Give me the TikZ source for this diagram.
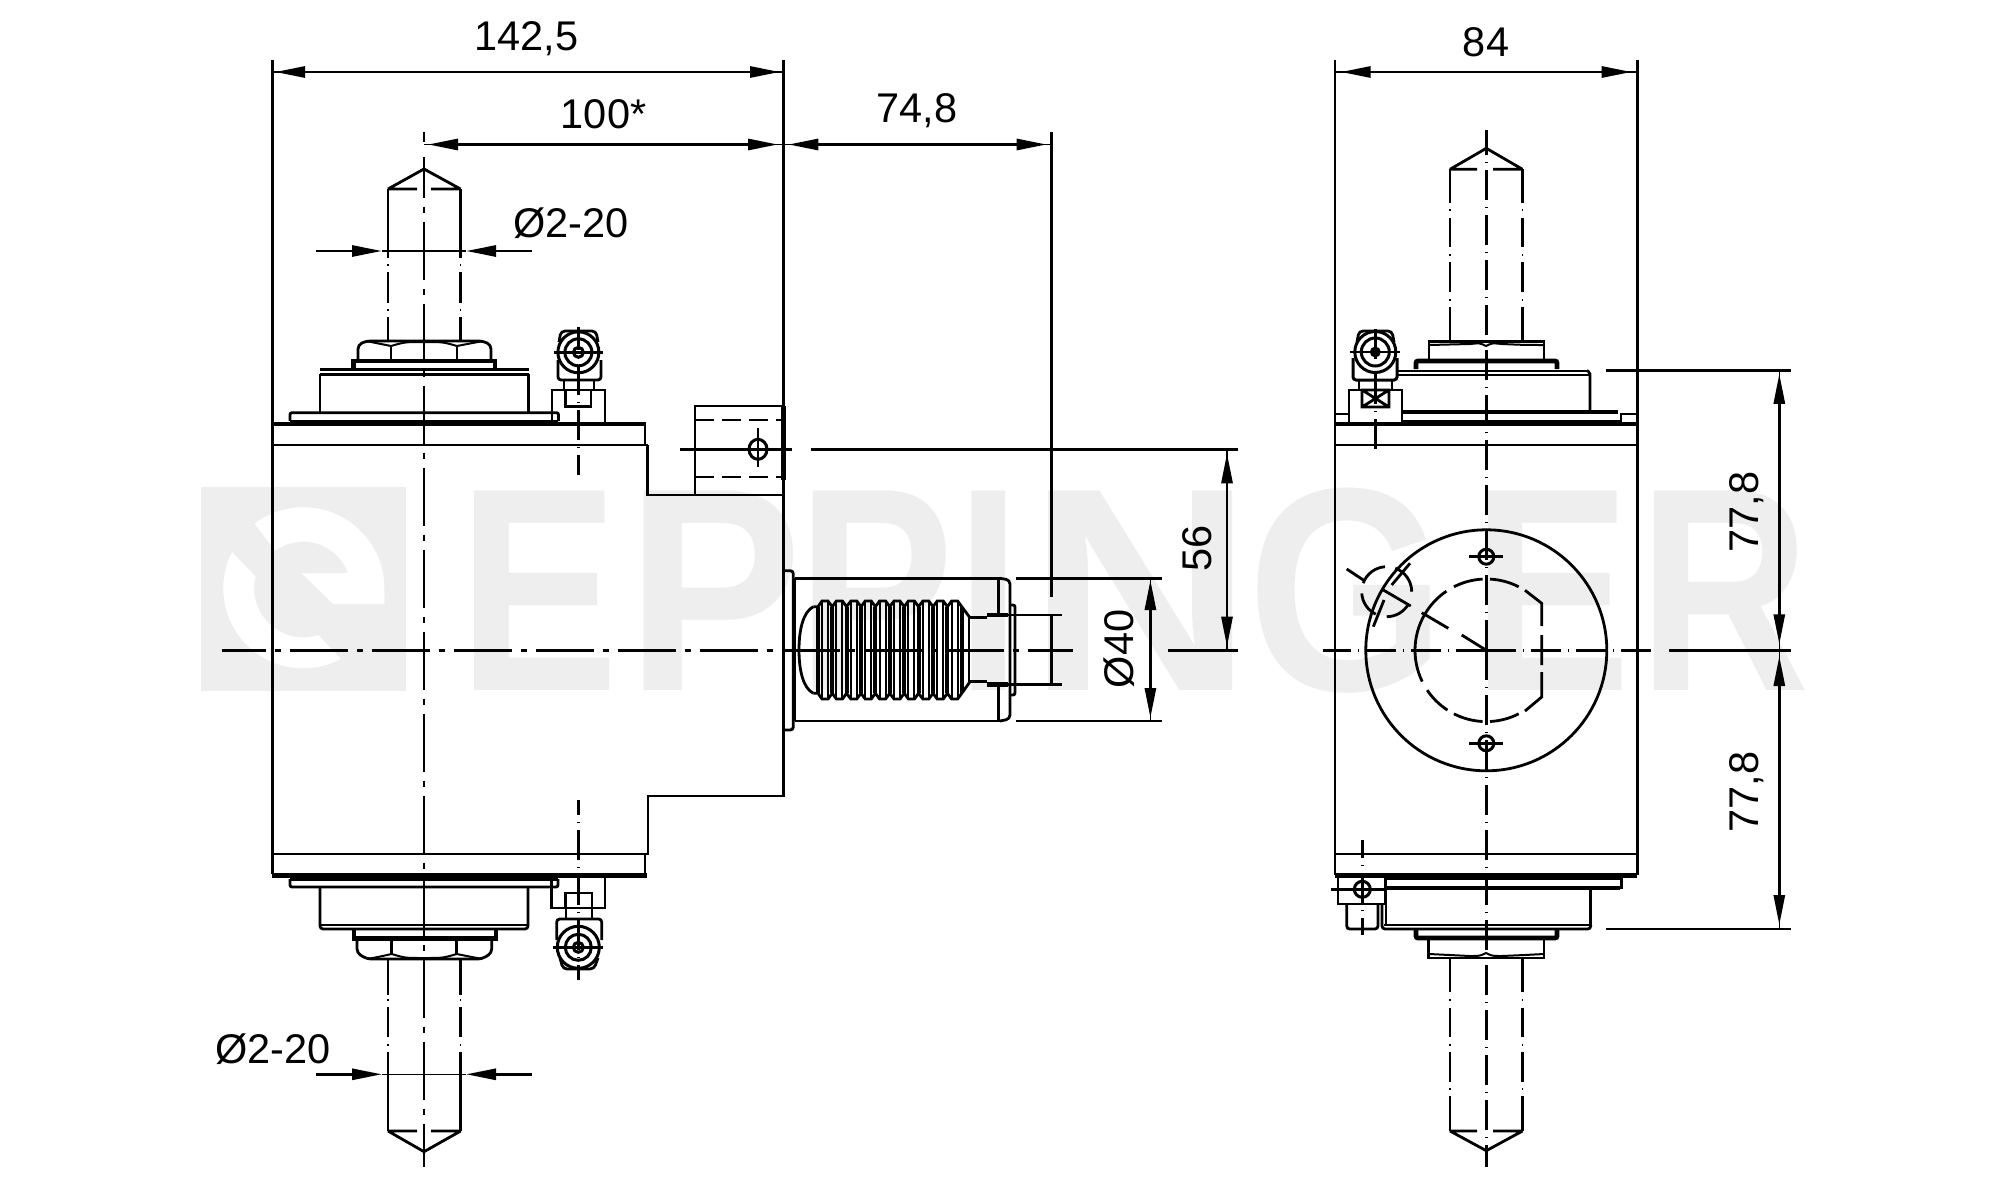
\documentclass[tikz,border=0pt]{standalone}
\usepackage{graphicx}
\usepackage{fontspec}
\setmainfont{Liberation Sans}
\usetikzlibrary{arrows.meta}
\definecolor{wmgray}{HTML}{EEEEEE}
\tikzset{
 ln/.style={line width=2.8pt,line cap=butt,line join=miter},
 hv/.style={line width=4.8pt,line cap=butt},
 thinl/.style={line width=1.3pt},
 cla/.style={ln,dash pattern=on 58pt off 9pt on 6pt off 9pt},
 clb/.style={ln,dash pattern=on 30pt off 7pt on 1pt off 7pt},
 dimarrow/.style={line width=2.8pt,{Triangle[length=30pt,width=11pt]}-{Triangle[length=30pt,width=11pt]}},
 onearrow/.style={line width=2.8pt,-{Triangle[length=30pt,width=11pt]}},
 dimtxt/.style={inner sep=0pt,anchor=base,font=\fontsize{41.5}{41.5}\selectfont},
 wm/.style={inner sep=0pt,anchor=base west,text=wmgray,font=\bfseries\fontsize{290}{290}\selectfont},
}
\begin{document}
\begin{tikzpicture}[x=1pt,y=-1pt]
\useasboundingbox (0,0) rectangle (2006,1180);
\fill[white] (0,0) rectangle (2006,1180);
% ---------- watermark
\fill[wmgray] (201,487.3) rectangle (406,690.7);
\fill[white] (303.3,588.3) ++(-127:81) arc[start angle=-127,end angle=0,radius=81] -- (384.3,604) -- (333.3,604) -- (301.7,573.3) -- (348,573) arc[start angle=-20,end angle=-126,radius=47.7] -- cycle;
\fill[white] (303.3,588.3) ++(-153:80) arc[start angle=-153,end angle=-298,radius=80] -- (318.3,635) arc[start angle=72,end angle=194,radius=49] -- cycle;
\node[wm] (w1) at (458,690.7) {\scalebox{.83}[1]{E}};
\node[wm] (w2) at (626,690.7) {\scalebox{.91}[1]{P}};
\node[wm] (w3) at (797,690.7) {\scalebox{.81}[1]{P}};
\node[wm] (w4) at (956,690.7) {\scalebox{.8}[1]{I}};
\node[wm] (w5) at (1027,690.7) {\scalebox{1.08}[1]{N}};
\node[wm] (w6) at (1247,690.7) {\scalebox{.88}[1]{G}};
\node[wm] (w7) at (1472,690.7) {\scalebox{.82}[1]{E}};
\node[wm] (w8) at (1638,690.7) {\scalebox{.82}[1]{R}};
% ---------- left view: body
\draw[ln] (272.5,60) -- (272.5,874);
\draw[ln] (272,445) -- (648,445) (272,854) -- (647,854);
\draw[ln] (645,424) -- (645,445) (647.5,445) -- (647.5,495) -- (783.5,495) -- (783.5,796) -- (648,796) -- (648,855);
\draw[ln] (645,854) -- (645,875);
\draw[ln] (783.5,60) -- (783.5,495);
\draw[hv] (272,424) -- (646,424) (272,875.5) -- (647,875.5);
% lug
\draw[ln] (695,495) -- (695,406) -- (783.5,406);
\draw[hv] (783.5,406) -- (783.5,480);
\draw[ln,dash pattern=on 19pt off 8pt] (695,420) -- (783,420) (695,477) -- (783,477);
\draw[line width=3pt] (758,449.3) ellipse[x radius=9,y radius=10];
\draw[ln] (758,428) -- (758,467) (680,449.3) -- (791.5,449.3) (810.6,449.3) -- (1238,449.3);
% top stack left view
\draw[ln,rounded corners=2pt] (290,421) -- (290,412.7) -- (558.5,412.7) -- (558.5,421);
\draw[hv] (290,422) -- (558,422);
\draw[ln] (320,412) -- (320,374) (528.6,374) -- (528.6,412);
\draw[ln] (320,369.5) -- (528.6,369.5) (320,374.5) -- (528.6,374.5);
\draw[hv] (353.5,369) -- (353.5,361) -- (495,361) -- (495,369);
\draw[ln] (353,369) -- (495,369);
\draw[ln,rounded corners=4pt] (358,359) -- (358,345) -- (366,341) -- (483,341) -- (491,345) -- (491,359);
\draw[line width=2pt] (366,341) .. controls (378,344) .. (391,346) (391,346) .. controls (405,342) .. (424,342) .. controls (443,342) .. (457,346) (457,346) .. controls (470,344) .. (483,341);
\draw[ln] (391,346) -- (391,359) (457,346) -- (457,359);
% top shank left view
\draw[ln] (424,169) -- (388,189) (424,169) -- (460.5,189) (388,189) -- (417,189) (431,189) -- (460.5,189);
\foreach \xx in {388,460.5}{
 \draw[ln] (\xx,189) -- (\xx,258) (\xx,272) -- (\xx,303) (\xx,317) -- (\xx,341);
 \foreach \yy in {265,310}{\draw[thinl] (\xx,\yy-1) -- (\xx,\yy+1);}
}
% bottom stack left view
\draw[ln,rounded corners=2pt] (290,879) -- (290,887) -- (558,887) -- (558,879);
\draw[hv] (290,879) -- (558,879);
\draw[ln,rounded corners=3pt] (320,888) -- (320,929) -- (528,929) -- (528,888);
\draw[ln] (320,925) -- (528,925);
\draw[hv] (354,930) -- (354,938.5) -- (496,938.5) -- (496,930);
\draw[ln,rounded corners=4pt] (357,939) -- (357,953) -- (367,959) -- (482,959) -- (491.7,953) -- (491.7,939);
\draw[line width=2pt] (367,959) .. controls (378,957) .. (391.7,954) (391.7,954) .. controls (405,958) .. (424,958) .. controls (443,958) .. (456.7,954) (456.7,954) .. controls (470,957) .. (482,959);
\draw[ln] (391.7,940) -- (391.7,954) (456.7,940) -- (456.7,954);
% bottom shank left view
\draw[ln] (424,1151.7) -- (388,1131) (424,1151.7) -- (460.7,1131) (388,1131) -- (417,1131) (431,1131) -- (460.7,1131);
\foreach \xx in {388,460.7}{
 \draw[ln] (\xx,959) -- (\xx,995) (\xx,1007) -- (\xx,1037) (\xx,1052) -- (\xx,1131);
 \foreach \yy in {1000,1045}{\draw[thinl] (\xx,\yy-1) -- (\xx,\yy+1);}
}
% top fitting left view
\draw[ln] (552,424) -- (552,390) -- (605,390) -- (605,424);
\draw[ln] (565.7,390) rectangle (591,406.7);
\draw[ln] (564,380) -- (564,390) (594,380) -- (594,390);
\draw[ln,rounded corners=3pt] (558,360) -- (558,380) -- (601,380) -- (601,360);
\draw[ln,rounded corners=4pt] (559,342) -- (561,331) -- (596,331) -- (598,342);
\draw[line width=3pt,fill=white] (578.4,352.3) circle[radius=20.5];
\draw[line width=3pt] (578.4,352.3) circle[radius=13.5] (578.4,352.3) circle[radius=5];
\draw[ln] (554,352.3) -- (603,352.3);
\draw[clb,dash phase=10pt] (578.4,475) -- (578.4,327);
% bottom fitting left view
\draw[ln] (551.7,876) -- (551.7,908) -- (605,908) -- (605,876);
\draw[ln] (565.7,908) -- (565.7,893) -- (592,893) -- (592,908);
\draw[ln] (566,908) -- (566,919) (592,908) -- (592,919);
\draw[ln,rounded corners=3pt] (556.7,940) -- (556.7,919) -- (601.7,919) -- (601.7,940);
\draw[ln,rounded corners=4pt] (560,958) -- (563,969) -- (594,969) -- (598,958);
\draw[line width=3pt,fill=white] (578.3,947.3) circle[radius=21];
\draw[line width=3pt] (578.3,947.3) circle[radius=13] (578.3,947.3) circle[radius=5];
\draw[ln] (553,947.3) -- (603,947.3);
\draw[clb,dash phase=15pt] (578.3,800) -- (578.3,980);
% left view centre lines
\draw[ln] (424,132) -- (424,142) (424,157) -- (424,197.5);
\draw[cla,dash phase=58pt] (424,197.5) -- (424,1166.7);
\draw[cla,dash phase=14pt] (221.7,650.3) -- (1073,650.3);
\draw[ln] (1168,650.3) -- (1238,650.3);
% ---------- spindle / bellows
\draw[ln,rounded corners=3pt] (783.5,570.7) -- (793.3,570.7) -- (793.3,730) -- (783.5,730);
\draw[ln] (795,578) -- (795,721);
\draw[ln] (795,578.3) -- (1001,578.3) (795,721) -- (1001,721);
\draw[ln,rounded corners=4pt] (1000,578.3) -- (1010,580) -- (1010,719) -- (1000,721);
\draw[ln] (998.3,578.3) -- (998.3,615) (998.3,684) -- (998.3,721);
\draw[ln,rounded corners=2pt] (1010,605) -- (1015,605) -- (1015,695) -- (1010,695);
\draw[hv] (987,615) -- (1008,615) (987,684.3) -- (1008,684.3);
\draw[ln] (1008,615) -- (1061.7,615) (1008,684.3) -- (1061.7,684.3);
\draw[ln] (970,617.7) -- (987,617.7) (970,681.7) -- (987,681.7);
\draw[ln] (813.3,606.7) .. controls (803,612) and (799,630) .. (799,650) .. controls (799,670) and (803,688) .. (813.3,693.3);
\draw[ln] (813.3,606.7) -- (818,606.7) \foreach \pp in {825,839.4,853.8,868.2,882.6,897,911.4,925.8,940.2,954.6}{ -- (\pp-3,601) -- (\pp+3,601) -- (\pp+7.2,606.7)} -- (970,617.7);
\draw[ln] (813.3,693.3) -- (818,693.3) \foreach \pp in {825,839.4,853.8,868.2,882.6,897,911.4,925.8,940.2,954.6}{ -- (\pp-3,699) -- (\pp+3,699) -- (\pp+7.2,693.3)} -- (970,681.7);
\foreach \pp in {825,839.4,853.8,868.2,882.6,897,911.4,925.8,940.2,954.6}{
 \draw[line width=4pt] (\pp-7.2,606.7) -- (\pp-7.2,693.3);
 \draw[line width=2pt] (\pp-3,602) -- (\pp-3,698) (\pp+3,602) -- (\pp+3,698);
}
\draw[line width=4pt] (962,607) -- (962,693);
\draw[line width=2pt] (969,617) -- (969,683);
% dimension extension lines near spindle
\draw[ln] (1016,578.3) -- (1162,578.3) (1016,721) -- (1162,721);
\draw[ln] (1051.7,131.7) -- (1051.7,596.7) (1051.7,615) -- (1051.7,684.3);
% ---------- right view
\draw[ln] (1335,60) -- (1335,875) (1637.3,60) -- (1637.3,875);
\draw[ln] (1335,445) -- (1637.3,445) (1335,854) -- (1637.3,854);
\draw[hv] (1335,424) -- (1637.3,424) (1335,875.5) -- (1637.3,875.5);
\draw[ln] (1335,414) -- (1349,414) (1620,414) -- (1637.3,414);
% top stack right view
\draw[hv] (1402,412) -- (1618,412) (1402,422) -- (1621,422);
\draw[ln] (1621,413) -- (1621,424);
\draw[ln] (1396,371) -- (1587,371) (1396,375) -- (1590,375);
\draw[ln,rounded corners=2pt] (1587,370.7) -- (1590,372) -- (1590,411);
\draw[hv,rounded corners=2pt] (1416,369) -- (1416,361) -- (1557,361) -- (1557,369);
\draw[ln] (1429,359) -- (1429,341.7) -- (1544,341.7) -- (1544,359);
\draw[line width=2pt] (1429,345) .. controls (1450,345) .. (1470,344) .. controls (1480,343) .. (1486,346) .. controls (1492,343) .. (1502,344) .. controls (1525,345) .. (1544,345);
% right view top fitting
\draw[ln] (1349,424) -- (1349,390) -- (1402,390) -- (1402,424);
\draw[ln] (1362,390) rectangle (1389,407) (1362,390) -- (1389,407) (1389,390) -- (1362,407);
\draw[ln] (1359,380) -- (1359,390) (1392,380) -- (1392,390);
\draw[line width=3pt,rounded corners=3pt] (1353,358) -- (1353,380) -- (1397,380) -- (1397,358);
\draw[ln,rounded corners=4pt] (1357,342) -- (1359,331) -- (1392,331) -- (1394,342);
\draw[line width=3pt,fill=white] (1375.3,352) circle[radius=20.5];
\draw[line width=3pt] (1375.3,352) circle[radius=14];
\fill (1375.3,352) circle[radius=5.5];
\draw[ln] (1350,352) -- (1400,352);
\draw[clb] (1375.3,449) -- (1375.3,327);
% right view shanks
\draw[ln] (1486.3,148.3) -- (1450,169.3) (1486.3,148.3) -- (1522.5,169.3) (1450,169.3) -- (1477,169.3) (1493,169.3) -- (1522.5,169.3);
\draw[ln] (1486.3,1150.7) -- (1450,1131) (1486.3,1150.7) -- (1522.5,1131) (1450,1131) -- (1477,1131) (1493,1131) -- (1522.5,1131);
\foreach \xx in {1450,1522.5}{
 \draw[ln] (\xx,169) -- (\xx,203) (\xx,218) -- (\xx,247) (\xx,262) -- (\xx,292) (\xx,307) -- (\xx,342);
 \draw[ln] (\xx,958) -- (\xx,992) (\xx,1008) -- (\xx,1037) (\xx,1052) -- (\xx,1082) (\xx,1096) -- (\xx,1131);
 \foreach \yy in {210,255,300,1000,1044.7,1089}{\draw[thinl] (\xx,\yy-1) -- (\xx,\yy+1);}
}
% bottom stack right view
\draw[hv] (1386,878) -- (1620,878) (1386,888) -- (1620,888);
\draw[ln] (1621.5,877) -- (1621.5,889);
\draw[ln] (1386,889) -- (1386,925);
\draw[ln] (1590.7,889) -- (1590.7,927);
\draw[ln,rounded corners=3pt] (1382,904) -- (1382,929) -- (1590.7,929) -- (1590.7,925);
\draw[ln] (1384,925) -- (1590.7,925);
\draw[hv,rounded corners=2pt] (1416,930) -- (1416,938) -- (1557,938) -- (1557,930);
\draw[ln] (1428.7,940) -- (1428.7,958) -- (1544,958) -- (1544,940);
\draw[line width=2pt] (1429,954) .. controls (1450,955) .. (1470,956) .. controls (1480,956) .. (1486,953) .. controls (1492,956) .. (1502,956) .. controls (1525,955) .. (1544,954);
\draw[ln] (1338,876) -- (1338,904) -- (1385.7,904) -- (1385.7,876);
\draw[ln,rounded corners=3pt] (1346.7,904) -- (1346.7,929) -- (1378,929) -- (1378,904);
\draw[line width=3pt] (1362.3,889.3) circle[radius=8];
\draw[ln] (1331,889.3) -- (1385,889.3);
\draw[clb,dash phase=12pt] (1362.3,840) -- (1362.3,935);
% front circles
\draw[line width=2.8pt] (1486.3,650.3) circle[radius=120.5];
\foreach \yy in {556.7,743.3}{
 \draw[line width=3pt] (1486.3,\yy) circle[radius=7.5];
 \draw[ln] (1469.3,\yy) -- (1503.3,\yy);
}
\foreach \aa/\bb in {-117/-93,-87/-63,63/87,93/117,123/146,154/214,-146/-124}{
 \draw[ln] (1486.3,650.3) ++(\aa:71.3) arc[start angle=\aa,end angle=\bb,radius=71.3];
}
\draw[ln] (1525.0,590.3) -- (1541.7,603.3) -- (1541.7,626) (1541.7,635) -- (1541.7,665) (1541.7,672) -- (1541.7,697) -- (1525,711);
% radial section
\draw[ln] (1486.3,650.3) -- (1461.7,635) (1448.3,628.3) -- (1421.7,612.7) (1410.7,606) -- (1383.3,590) (1363.3,580) -- (1346.7,569);
\draw[ln] (1373.3,626.7) -- (1384,600) (1391.7,585) -- (1410,563.3);
\foreach \aa/\bb in {-160/-94,-70/0,29/90,116/176}{
 \draw[ln] (1386.7,591.7) ++(\aa:25) arc[start angle=\aa,end angle=\bb,radius=25];
}
% right view centre lines
\draw[clb] (1486.3,650.3) -- (1486.3,130);
\draw[clb] (1486.3,650.3) -- (1486.3,1166.7);
\draw[clb] (1486.3,650.3) -- (1322.6,650.3);
\draw[clb] (1486.3,650.3) -- (1651.6,650.3);
\draw[ln] (1669,650.3) -- (1791,650.3);
\draw[ln] (1606,370.7) -- (1791,370.7) (1606,929) -- (1791,929);
% ---------- dimensions
\draw[thinl] (272.5,72) -- (783.5,72);
\draw[dimarrow] (275,72) -- (780,72);
\draw[thinl] (424,144.5) -- (1051.7,144.5);
\draw[dimarrow] (428,144.5) -- (778,144.5);
\draw[dimarrow] (788.3,144.5) -- (1046.7,144.5);
\draw[thinl] (1335,72) -- (1637.3,72);
\draw[dimarrow] (1340.7,72) -- (1631.7,72);
\draw[onearrow] (316,251) -- (382,251);
\draw[onearrow] (532,251) -- (466,251);
\draw[line width=1.5pt] (382,251) -- (466,251);
\draw[onearrow] (316,1074.3) -- (382,1074.3);
\draw[onearrow] (531.7,1074.3) -- (466,1074.3);
\draw[line width=1.5pt] (382,1074.3) -- (466,1074.3);
\draw[thinl] (1227,449.3) -- (1227,650.3);
\draw[dimarrow] (1227,453.3) -- (1227,646.7);
\draw[thinl] (1150.4,578.3) -- (1150.4,721);
\draw[dimarrow] (1150.4,580) -- (1150.4,718);
\draw[thinl] (1779.3,370.7) -- (1779.3,929);
\draw[dimarrow] (1779.3,373.8) -- (1779.3,644.3);
\draw[dimarrow] (1779.3,656) -- (1779.3,925);
% ---------- texts
\node[dimtxt] (t1) at (526.5,50.5) {142,5};
\node[dimtxt] (t2) at (603.6,128.5) {100*};
\node[dimtxt] (t3) at (571,237) {Ø2-20};
\node[dimtxt] (t4) at (917,123) {74,8};
\node[dimtxt] (t5) at (1486,56.5) {84};
\node[dimtxt] (t6) at (273,1063) {Ø2-20};
\node[dimtxt,rotate=90] (t7) at (1211,548) {56};
\node[dimtxt,rotate=90] (t8) at (1133,649) {Ø40};
\node[dimtxt,rotate=90] (t9) at (1758,512) {77,8};
\node[dimtxt,rotate=90] (t10) at (1758,792) {77,8};
\end{tikzpicture}
\end{document}
